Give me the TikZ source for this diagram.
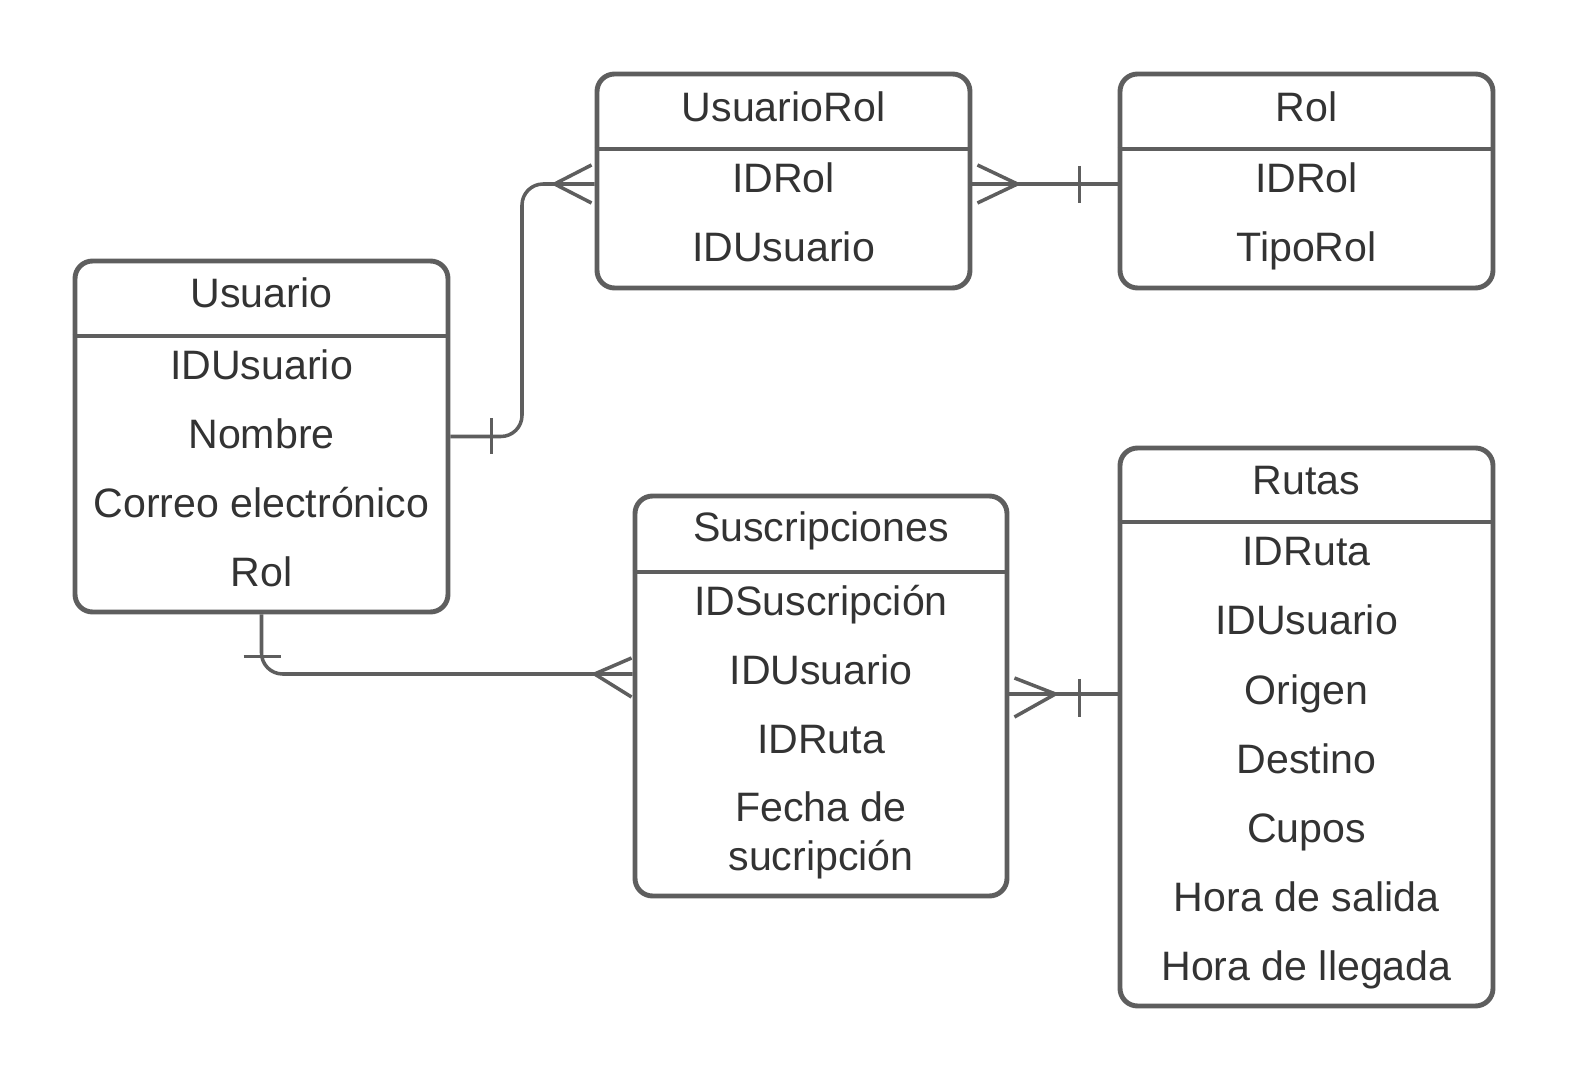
\documentclass[tikz,border=0pt]{standalone}
\usepackage{fontspec}
\setmainfont{Liberation Sans}
\usepackage{tikz}
\usetikzlibrary{calc}
\definecolor{linegray}{HTML}{5E5E5E}
\definecolor{textgray}{HTML}{333333}
\tikzstyle{entity} = [rectangle, rounded corners=5pt, draw=linegray, line width=1.4pt, minimum width=3.73cm]
\tikzstyle{field} = [text=textgray, inner sep=0pt, anchor=base, font=\fontsize{11.7}{14}\selectfont]
\tikzstyle{divider} = [draw=linegray, line width=1.4pt]
\tikzstyle{link} = [draw=linegray, line width=1pt]

\begin{document}
\begin{tikzpicture}
\useasboundingbox (0,0) rectangle (15.75,-10.86);

% entities
\node (usr) [entity, minimum height=3.51cm] at (2.615,-4.365) {};
\node (usrrol) [entity, minimum height=2.14cm] at (7.835,-1.81) {};
\node (rol) [entity, minimum height=2.14cm] at (13.065,-1.81) {};
\node (sus) [entity, minimum width=3.72cm, minimum height=4cm] at (8.21,-6.96) {};
\node (rut) [entity, minimum height=5.58cm] at (13.065,-7.27) {};

\draw [divider] (usr.west |- 0,-3.36) -- (usr.east |- 0,-3.36);
\draw [divider] (usrrol.west |- 0,-1.49) -- (usrrol.east |- 0,-1.49);
\draw [divider] (rol.west |- 0,-1.49) -- (rol.east |- 0,-1.49);
\draw [divider] (sus.west |- 0,-5.72) -- (sus.east |- 0,-5.72);
\draw [divider] (rut.west |- 0,-5.22) -- (rut.east |- 0,-5.22);

% Usuario
\node (usrT) [field] at (2.615,-3.08) {Usuario};
\node (usr1) [field] at (2.615,-3.80) {IDUsuario};
\node (usr2) [field] at (2.615,-4.49) {Nombre};
\node (usr3) [field] at (2.615,-5.18) {Correo electrónico};
\node (usr4) [field] at (2.615,-5.87) {Rol};

% UsuarioRol
\node (usrrolT) [field] at (7.835,-1.22) {UsuarioRol};
\node (usrrol1) [field] at (7.835,-1.93) {IDRol};
\node (usrrol2) [field] at (7.835,-2.62) {IDUsuario};

% Rol
\node (rolT) [field] at (13.065,-1.22) {Rol};
\node (rol1) [field] at (13.065,-1.93) {IDRol};
\node (rol2) [field] at (13.065,-2.62) {TipoRol};

% Suscripciones
\node (susT) [field] at (8.21,-5.42) {Suscripciones};
\node (sus1) [field] at (8.21,-6.16) {IDSuscripción};
\node (sus2) [field] at (8.21,-6.85) {IDUsuario};
\node (sus3) [field] at (8.21,-7.54) {IDRuta};
\node (sus4) [field] at (8.21,-8.22) {Fecha de};
\node (sus5) [field] at (8.21,-8.71) {sucripción};

% Rutas
\node (rutT) [field] at (13.065,-4.95) {Rutas};
\node (rut1) [field] at (13.065,-5.66) {IDRuta};
\node (rut2) [field] at (13.065,-6.35) {IDUsuario};
\node (rut3) [field] at (13.065,-7.05) {Origen};
\node (rut4) [field] at (13.065,-7.74) {Destino};
\node (rut5) [field] at (13.065,-8.43) {Cupos};
\node (rut6) [field] at (13.065,-9.12) {Hora de salida};
\node (rut7) [field] at (13.065,-9.81) {Hora de llegada};

% relations
\coordinate (c1) at (usrrol.west |- 0,-1.84);
\coordinate (c2) at (usrrol.east |- 0,-1.84);
\coordinate (c3) at (rol.west |- 0,-1.84);
\coordinate (c4) at (sus.west |- 0,-6.74);
\coordinate (c5) at (sus.east |- 0,-6.94);
\coordinate (c6) at (rut.west |- 0,-6.94);

\draw [link, rounded corners=6pt] (usr.east) -- (5.22,-4.365) -- (5.22,-1.84) -- (c1);
\draw [link] ($(usr.east)+(0.41,0.18)$) -- ($(usr.east)+(0.41,-0.18)$);
\draw [link] ($(c1)+(-0.03,0.19)$) -- ($(c1)+(-0.4,0)$) -- ($(c1)+(-0.03,-0.19)$);

\draw [link] (c2) -- (c3);
\draw [link] ($(c2)+(0.05,0.19)$) -- ($(c2)+(0.45,0)$) -- ($(c2)+(0.05,-0.19)$);
\draw [link] ($(c3)+(-0.38,0.18)$) -- ($(c3)+(-0.38,-0.19)$);

\draw [link, rounded corners=6pt] (usr.south) -- (2.615,-6.74) -- (c4);
\draw [link] ($(usr.south)+(-0.18,-0.42)$) -- ($(usr.south)+(0.19,-0.42)$);
\draw [link] ($(c4)+(-0.01,0.16)$) -- ($(c4)+(-0.38,0)$) -- ($(c4)+(-0.01,-0.23)$);

\draw [link] (c5) -- (c6);
\draw [link] ($(c5)+(0.05,0.16)$) -- ($(c5)+(0.46,0)$) -- ($(c5)+(0.05,-0.23)$);
\draw [link] ($(c6)+(-0.38,0.15)$) -- ($(c6)+(-0.38,-0.23)$);
\end{tikzpicture}
\end{document}
